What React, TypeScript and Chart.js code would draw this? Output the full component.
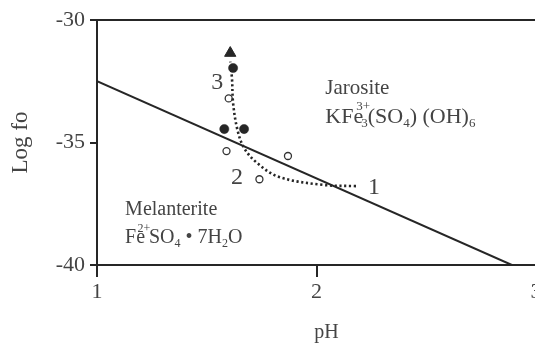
import React, { useEffect, useRef } from "react";
import { Chart, registerables } from "chart.js";
Chart.register(...registerables);

const phMin = 1;
const phMax = 3;
const logMin = -40;
const logMax = -30;
const xTickValues = [1, 2, 3];
const yTickValues = [-40, -35, -30];

const boundaryPH = [1, 2.89];
const boundaryLog = [-32.5, -40];

const trendPH = [2.18, 2.03, 1.83, 1.73, 1.67, 1.64, 1.62, 1.615, 1.607];
const trendLog = [-36.78, -36.73, -36.41, -35.84, -35.22, -34.49, -33.39, -32.4, -31.7];

const arrowPH = [1.607];
const arrowLog = [-31.35];

const filledPH = [1.62, 1.58, 1.67];
const filledLog = [-31.96, -34.45, -34.45];

const openPH = [1.6, 1.59, 1.87, 1.74];
const openLog = [-33.2, -35.35, -35.55, -36.5];

type Seg = { t: string; k: "n" | "sup" | "sub" | "supsub"; t2?: string };
type Label = { x: number; y: number; size: number; segs: Seg[] };

const labels: Label[] = [
  { x: 2.04, y: -32.8, size: 21, segs: [{ t: "Jarosite", k: "n" }] },
  {
    x: 2.04,
    y: -33.95,
    size: 22,
    segs: [
      { t: "KFe", k: "n" },
      { t: "3+", k: "supsub", t2: "3" },
      { t: "(SO", k: "n" },
      { t: "4", k: "sub" },
      { t: ") (OH)", k: "n" },
      { t: "6", k: "sub" },
    ],
  },
  { x: 1.128, y: -37.76, size: 20, segs: [{ t: "Melanterite", k: "n" }] },
  {
    x: 1.128,
    y: -38.88,
    size: 20,
    segs: [
      { t: "Fe", k: "n" },
      { t: "2+", k: "sup" },
      { t: "SO", k: "n" },
      { t: "4", k: "sub" },
      { t: " \u2022 7H", k: "n" },
      { t: "2", k: "sub" },
      { t: "O", k: "n" },
    ],
  },
  { x: 1.52, y: -32.57, size: 24, segs: [{ t: "3", k: "n" }] },
  { x: 1.61, y: -36.45, size: 24, segs: [{ t: "2", k: "n" }] },
  { x: 2.235, y: -36.86, size: 24, segs: [{ t: "1", k: "n" }] },
];

const FONT = '"Liberation Serif", "DejaVu Serif", serif';
const TEXT = "#444";
const INK = "#262626";

const toXY = (xs: number[], ys: number[]) => xs.map((x, i) => ({ x, y: ys[i] }));

const overlay = {
  id: "overlay",
  afterDatasetsDraw(chart: any) {
    const { ctx, chartArea, scales } = chart;
    ctx.save();
    // top frame line
    ctx.strokeStyle = INK;
    ctx.lineWidth = 2;
    ctx.beginPath();
    ctx.moveTo(chartArea.left - 7, chartArea.top);
    ctx.lineTo(chartArea.right, chartArea.top);
    ctx.stroke();
    ctx.fillStyle = TEXT;
    ctx.textBaseline = "middle";
    ctx.textAlign = "left";
    for (const lb of labels) {
      let px = scales.x.getPixelForValue(lb.x);
      const py = scales.y.getPixelForValue(lb.y);
      const small = Math.round(lb.size * 0.6);
      for (const s of lb.segs) {
        if (s.k === "n") {
          ctx.font = `${lb.size}px ${FONT}`;
          ctx.fillText(s.t, px, py);
          px += ctx.measureText(s.t).width;
        } else if (s.k === "sub") {
          ctx.font = `${small}px ${FONT}`;
          ctx.fillText(s.t, px, py + lb.size * 0.32);
          px += ctx.measureText(s.t).width;
        } else if (s.k === "sup") {
          ctx.font = `${small}px ${FONT}`;
          const w = ctx.measureText(s.t).width;
          ctx.fillText(s.t, px - w * 0.6, py - lb.size * 0.45);
          px += w * 0.3;
        } else {
          ctx.font = `${small}px ${FONT}`;
          const w1 = ctx.measureText(s.t).width;
          const w2 = ctx.measureText(s.t2 || "").width;
          ctx.fillText(s.t, px - w1 * 0.5, py - lb.size * 0.45);
          ctx.fillText(s.t2 || "", px - w2 * 0.3, py + lb.size * 0.32);
          px += w2 * 0.7;
        }
      }
    }
    ctx.restore();
  },
};

export default function App() {
  const ref = useRef<HTMLCanvasElement>(null);
  useEffect(() => {
    if (!ref.current) return;
    const chart = new Chart(ref.current, {
      type: "scatter",
      data: {
        datasets: [
          {
            type: "line",
            data: toXY(boundaryPH, boundaryLog),
            borderColor: INK,
            borderWidth: 2,
            pointRadius: 0,
            fill: false,
          },
          {
            type: "line",
            data: toXY(trendPH, trendLog),
            borderColor: INK,
            borderWidth: 2.6,
            borderDash: [2.2, 2.6],
            tension: 0.35,
            pointRadius: 0,
            fill: false,
          },
          {
            data: toXY(arrowPH, arrowLog),
            pointStyle: "triangle",
            pointRadius: 6.5,
            backgroundColor: INK,
            borderColor: INK,
            borderWidth: 1,
          },
          {
            data: toXY(filledPH, filledLog),
            pointStyle: "circle",
            pointRadius: 4.6,
            backgroundColor: INK,
            borderColor: INK,
            borderWidth: 0.5,
          },
          {
            data: toXY(openPH, openLog),
            pointStyle: "circle",
            pointRadius: 3.5,
            backgroundColor: "#ffffff",
            borderColor: "#333",
            borderWidth: 1.3,
          },
        ],
      },
      options: {
        animation: false,
        responsive: false,
        events: [],
        layout: { padding: { left: 0, top: 20, right: 24, bottom: 0 } },
        plugins: { legend: { display: false }, tooltip: { enabled: false } },
        scales: {
          x: {
            type: "linear",
            min: phMin,
            max: phMax,
            afterFit: (s: any) => {
              s.height = 80;
            },
            afterBuildTicks: (s: any) => {
              s.ticks = xTickValues.map((v) => ({ value: v }));
            },
            ticks: { font: { family: FONT, size: 22 }, color: TEXT, padding: 2 },
            grid: {
              drawOnChartArea: false,
              drawTicks: true,
              tickLength: 12,
              color: INK,
              lineWidth: 2,
            },
            border: { color: INK, width: 2 },
            title: {
              display: true,
              text: "\u2003pH",
              font: { family: FONT, size: 20 },
              color: TEXT,
              padding: { top: 0, bottom: 0 },
            },
          },
          y: {
            type: "linear",
            min: logMin,
            max: logMax,
            afterFit: (s: any) => {
              s.width = 97;
            },
            afterBuildTicks: (s: any) => {
              s.ticks = yTickValues.map((v) => ({ value: v }));
            },
            ticks: { font: { family: FONT, size: 22 }, color: TEXT, padding: 5 },
            grid: {
              drawOnChartArea: false,
              drawTicks: true,
              tickLength: 7,
              color: INK,
              lineWidth: 2,
            },
            border: { color: INK, width: 2 },
            title: {
              display: true,
              text: "Log fo",
              font: { family: FONT, size: 23 },
              color: TEXT,
              padding: { top: 7, bottom: 0 },
            },
          },
        },
      },
      plugins: [overlay],
    } as any);
    return () => chart.destroy();
  }, []);
  return (
    <div
      style={{
        position: "absolute",
        left: 0,
        top: 0,
        width: 535,
        height: 345,
        overflow: "hidden",
        background: "#fff",
      }}
    >
      <canvas ref={ref} width={560} height={345} style={{ width: 560, height: 345 }} />
    </div>
  );
}
